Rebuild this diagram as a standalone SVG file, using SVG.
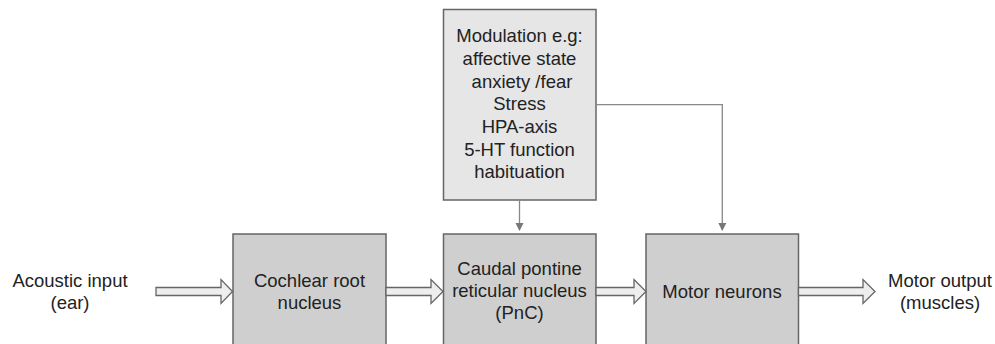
<svg xmlns="http://www.w3.org/2000/svg" width="995" height="344" viewBox="0 0 995 344">
<style>
  text { font-family: "Liberation Sans", Arial, sans-serif; font-size: 18.5px; fill: #222; text-anchor: middle; }
  .box { fill: #cfcfcf; stroke: #666; stroke-width: 1.5; }
  .mod { fill: #e6e6e6; stroke: #666; stroke-width: 1.5; }
  .blk { fill: #eeeeee; stroke: #666; stroke-width: 1.3; stroke-linejoin: miter; }
  .line { fill: none; stroke: #888; stroke-width: 1.3; }
</style>
<defs>
  <marker id="ah" markerWidth="8" markerHeight="11" refX="7" refY="4" orient="auto" markerUnits="userSpaceOnUse" viewBox="0 0 8 8">
    <path d="M0,0 L8,4 L0,8 Z" fill="#777"/>
  </marker>
</defs>
<rect width="995" height="344" fill="#fff"/>

<g id="acoustic-input">
  <text x="70" y="286.5">Acoustic input</text>
  <text x="70" y="308.5">(ear)</text>
</g>

<g id="modulation">
  <rect class="mod" x="443.5" y="9.5" width="152.5" height="190.5"/>
  <text x="519.5" y="41.5">Modulation e.g:</text>
  <text x="519.5" y="64.5">affective state</text>
  <text x="522" y="87.5">anxiety /fear</text>
  <text x="519.5" y="110">Stress</text>
  <text x="519.5" y="133">HPA-axis</text>
  <text x="519.5" y="156">5-HT function</text>
  <text x="519.5" y="178">habituation</text>
</g>

<g id="cochlear">
  <rect class="box" x="233" y="234" width="153" height="120"/>
  <text x="309.5" y="286.5">Cochlear root</text>
  <text x="309.5" y="308.5">nucleus</text>
</g>

<g id="pnc">
  <rect class="box" x="443.5" y="234" width="152.5" height="120"/>
  <text x="519.5" y="275">Caudal pontine</text>
  <text x="519.5" y="297">reticular nucleus</text>
  <text x="519.5" y="319">(PnC)</text>
</g>

<g id="motor-neurons">
  <rect class="box" x="646" y="234" width="152.5" height="120"/>
  <text x="722" y="298">Motor neurons</text>
</g>

<g id="motor-output">
  <text x="940" y="286.5">Motor output</text>
  <text x="940" y="308.5">(muscles)</text>
</g>

<g id="connectors">
  <path class="blk" d="M156,287.5 L221,287.5 L221,279.5 L232.5,291.5 L221,303.5 L221,295.5 L156,295.5 Z"/>
  <path class="blk" d="M386,287.5 L431,287.5 L431,279.5 L443,291.5 L431,303.5 L431,295.5 L386,295.5 Z"/>
  <path class="blk" d="M596,287.5 L634,287.5 L634,279.5 L646,291.5 L634,303.5 L634,295.5 L596,295.5 Z"/>
  <path class="blk" d="M798.5,287.5 L863,287.5 L863,279.5 L875,291.5 L863,303.5 L863,295.5 L798.5,295.5 Z"/>
  <path class="line" d="M519.5,200 L519.5,230" marker-end="url(#ah)"/>
  <path class="line" d="M596,104.7 L722.3,104.7 L722.3,230" marker-end="url(#ah)"/>
</g>
</svg>
